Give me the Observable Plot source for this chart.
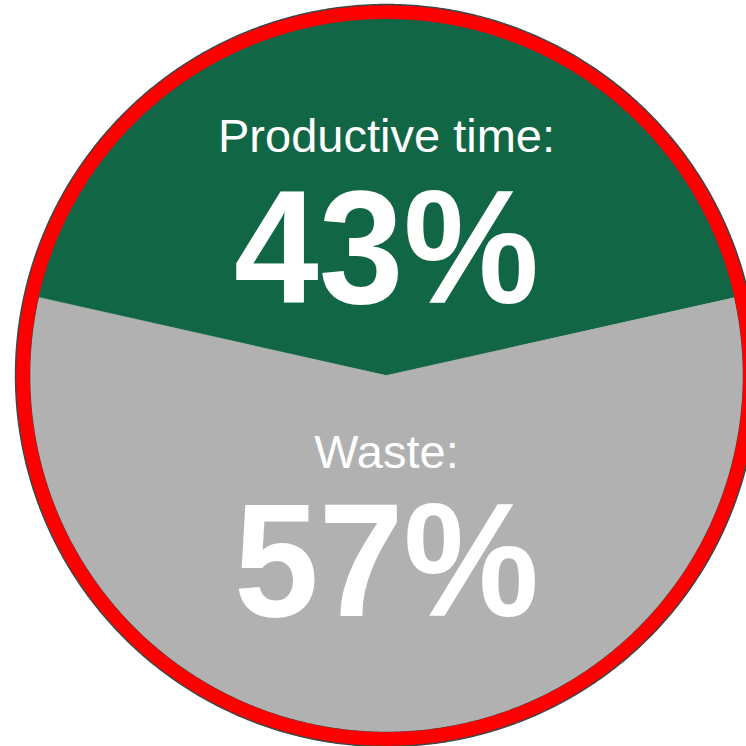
<!DOCTYPE html>
<html>
<head>
<meta charset="utf-8">
<script src="https://cdn.jsdelivr.net/npm/d3@7"></script>
<script src="https://cdn.jsdelivr.net/npm/@observablehq/plot@0.6"></script>
<style>
  html, body { margin: 0; padding: 0; background: #ffffff; }
  #chart { width: 746px; height: 746px; overflow: hidden; }
  svg { display: block; }
</style>
</head>
<body>
<div id="chart"></div>
<script>
// ---- data ----
const categories = ["Productive time", "Waste"];
const shares = [43, 57];
const titles = ["Productive time:", "Waste:"];
const valueLabels = ["43%", "57%"];
const sliceColors = ["#116645", "#b0b1b0"];

// ---- geometry from data (d3.pie) ----
const pie = d3.pie().sort(null).value(d => d.share)
  .startAngle(-Math.PI * shares[0] / 100)
  .endAngle(2 * Math.PI - Math.PI * shares[0] / 100);
const rows = categories.map((c, i) => ({category: c, share: shares[i], color: sliceColors[i]}));
const arcs = pie(rows);

const slicePts = [];
arcs.forEach(a => {
  const n = Math.max(2, Math.ceil((a.endAngle - a.startAngle) / 0.005));
  slicePts.push({cat: a.data.category, x: 0, y: 0});
  for (let k = 0; k <= n; k++) {
    const t = a.startAngle + (a.endAngle - a.startAngle) * k / n;
    slicePts.push({cat: a.data.category, x: Math.sin(t), y: Math.cos(t)});
  }
});

function ring(r) {
  const pts = [];
  const n = 1000;
  for (let k = 0; k <= n; k++) {
    const t = 2 * Math.PI * k / n;
    pts.push({x: r * Math.sin(t), y: r * Math.cos(t)});
  }
  return pts;
}

// label placement (layout)
const titleY = [0.625, -0.26];
const valueY = [0.204, -0.675];
const labelRows = categories.map((c, i) => ({
  title: titles[i], value: valueLabels[i], ty: titleY[i], vy: valueY[i]
}));

const cx = 386, cy = 375, R = 357;

const chart = Plot.plot({
  width: 746,
  height: 746,
  margin: 0,
  style: {background: "#ffffff", overflow: "hidden"},
  x: {domain: [-1, 1], range: [cx - R, cx + R], axis: null},
  y: {domain: [-1, 1], range: [cy + R, cy - R], axis: null},
  color: {domain: categories, range: sliceColors},
  marks: [
    Plot.line(slicePts, {x: "x", y: "y", z: "cat", fill: "cat", stroke: "cat", strokeWidth: 0.6, curve: "linear-closed"}),
    Plot.line(ring(1.0195), {x: "x", y: "y", stroke: "#444444", strokeWidth: 15.5, curve: "linear-closed"}),
    Plot.line(ring(1.018), {x: "x", y: "y", stroke: "#ff0000", strokeWidth: 13.5, curve: "linear-closed"}),
    Plot.text(labelRows, {x: () => 0, y: "ty", text: "title", fill: "#ffffff",
      fontSize: 47, fontFamily: "Liberation Sans, Arial, sans-serif", lineAnchor: "bottom", textAnchor: "middle"}),
    Plot.text(labelRows, {x: () => 0, y: "vy", text: "value", fill: "#ffffff",
      fontSize: 162, fontWeight: "bold", fontFamily: "Liberation Sans, Arial, sans-serif", lineAnchor: "bottom", textAnchor: "middle"})
  ]
});
// slightly condense the big value labels horizontally around the pie centre
d3.select(chart).selectAll("g[font-weight='bold']").each(function() {
  const prev = this.getAttribute("transform") || "";
  this.setAttribute("transform", `translate(${cx},0) scale(0.94,1) translate(${-cx},0) ${prev}`);
});
document.getElementById("chart").appendChild(chart);
</script>
</body>
</html>
